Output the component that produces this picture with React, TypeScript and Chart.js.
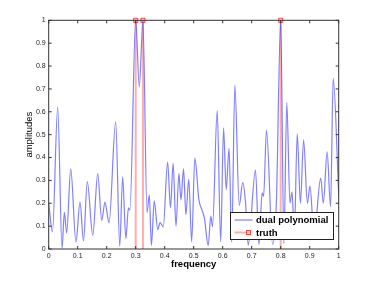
import React, { useEffect, useRef } from 'react';
import { Chart, registerables } from 'chart.js';

Chart.register(...registerables);

// ---- data ----
const freqs = [
  0.0, 0.013, 0.031, 0.046, 0.054, 0.062, 0.076, 0.094, 0.108, 0.12,
  0.133, 0.152, 0.169, 0.183, 0.194, 0.208, 0.231, 0.245, 0.255, 0.266,
  0.275, 0.28, 0.3, 0.3125, 0.325, 0.339, 0.347, 0.354, 0.364, 0.376,
  0.384, 0.395, 0.41, 0.42, 0.429, 0.439, 0.449, 0.456, 0.465, 0.473,
  0.483, 0.493, 0.504, 0.518, 0.528, 0.537, 0.55, 0.559, 0.565, 0.581,
  0.593, 0.603, 0.612, 0.622, 0.631, 0.642, 0.657, 0.669, 0.679, 0.688,
  0.713, 0.725, 0.736, 0.741, 0.751, 0.772, 0.785, 0.8, 0.811, 0.821,
  0.832, 0.839, 0.847, 0.857, 0.868, 0.879, 0.892, 0.901, 0.915, 0.938,
  0.947, 0.96, 0.972, 0.981, 1.0,
];
const amps = [
  0.2, 0.075, 0.62, 0.003, 0.16, 0.07, 0.35, 0.03, 0.205, 0.035,
  0.295, 0.06, 0.33, 0.125, 0.205, 0.115, 0.557, 0.012, 0.316, 0.045,
  0.18, 0.17, 1.0, 0.71, 1.0, 0.16, 0.236, 0.015, 0.21, 0.085,
  0.115, 0.097, 0.38, 0.18, 0.375, 0.1, 0.33, 0.215, 0.35, 0.15,
  0.305, 0.032, 0.397, 0.215, 0.172, 0.135, 0.015, 0.144, 0.098, 0.605,
  0.032, 0.53, 0.26, 0.44, 0.03, 0.717, 0.19, 0.29, 0.2, 0.017,
  0.345, 0.02, 0.245, 0.23, 0.52, 0.02, 0.2, 1.0, 0.025, 0.64,
  0.2, 0.25, 0.06, 0.503, 0.2, 0.477, 0.2, 0.275, 0.06, 0.31,
  0.2, 0.425, 0.185, 0.746, 0.236,
];
const truthFreqs = [0.3, 0.325, 0.8];
const truthAmps = [1, 1, 1];

const xTickValues = [0, 0.1, 0.2, 0.3, 0.4, 0.5, 0.6, 0.7, 0.8, 0.9, 1];
const xTickLabels = ['0', '0.1', '0.2', '0.3', '0.4', '0.5', '0.6', '0.7', '0.8', '0.9', '1'];
const yTickValues = [0, 0.1, 0.2, 0.3, 0.4, 0.5, 0.6, 0.7, 0.8, 0.9, 1];
const yTickLabels = ['0', '0.1', '0.2', '0.3', '0.4', '0.5', '0.6', '0.7', '0.8', '0.9', '1'];
const xTitle = 'frequency';
const yTitle = 'amplitudes';
const seriesLabels = ['dual polynomial', 'truth'];

const FONT = "'Liberation Sans', Arial, Helvetica, sans-serif";
const BLUE = 'rgba(0,0,255,0.5)';
const RED = 'rgba(255,0,0,0.32)';
const MARK_BORDER = 'rgba(255,0,0,0.7)';
const MARK_FILL = 'rgba(255,200,200,0.7)';

export default function App() {
  const ref = useRef<HTMLCanvasElement>(null);

  useEffect(() => {
    if (!ref.current) return;

    const truthData: any[] = [];
    truthFreqs.forEach((f, i) => {
      truthData.push({ x: f, y: 0 });
      truthData.push({ x: f, y: truthAmps[i] });
      truthData.push({ x: f, y: null });
    });

    const framePlugin = {
      id: 'matlabFrame',
      afterDatasetsDraw(chart: any) {
        const { ctx, chartArea: a, scales } = chart;
        const xs = scales.x;
        const ys = scales.y;
        ctx.save();
        ctx.strokeStyle = '#333';
        ctx.lineWidth = 1;
        ctx.strokeRect(a.left, a.top, a.right - a.left, a.bottom - a.top);
        const tl = 3;
        ctx.beginPath();
        xTickValues.forEach((v) => {
          const px = xs.getPixelForValue(v);
          ctx.moveTo(px, a.bottom);
          ctx.lineTo(px, a.bottom - tl);
          ctx.moveTo(px, a.top);
          ctx.lineTo(px, a.top + tl);
        });
        yTickValues.forEach((v) => {
          const py = ys.getPixelForValue(v);
          ctx.moveTo(a.left, py);
          ctx.lineTo(a.left + tl, py);
          ctx.moveTo(a.right, py);
          ctx.lineTo(a.right - tl, py);
        });
        ctx.stroke();

        // legend box
        const lx = a.right - 108.2;
        const ly = a.bottom - 36.5;
        const lw = 103;
        const lh = 27;
        ctx.fillStyle = '#fff';
        ctx.fillRect(lx, ly, lw, lh);
        ctx.strokeStyle = '#222';
        ctx.lineWidth = 1;
        ctx.strokeRect(lx, ly, lw, lh);

        const y1 = ly + 7.5;
        const y2 = ly + 20;
        ctx.strokeStyle = BLUE;
        ctx.lineWidth = 1.2;
        ctx.beginPath();
        ctx.moveTo(lx + 4, y1);
        ctx.lineTo(lx + 22, y1);
        ctx.stroke();

        ctx.strokeStyle = RED;
        ctx.lineWidth = 2;
        ctx.beginPath();
        ctx.moveTo(lx + 4, y2);
        ctx.lineTo(lx + 19, y2);
        ctx.stroke();
        ctx.fillStyle = MARK_FILL;
        ctx.strokeStyle = MARK_BORDER;
        ctx.lineWidth = 1;
        ctx.fillRect(lx + 16, y2 - 2, 4, 4);
        ctx.strokeRect(lx + 16, y2 - 2, 4, 4);

        ctx.fillStyle = '#000';
        ctx.font = `bold 9.5px ${FONT}`;
        ctx.textAlign = 'left';
        ctx.textBaseline = 'middle';
        ctx.fillText(seriesLabels[0], lx + 25.5, y1 + 0.5);
        ctx.fillText(seriesLabels[1], lx + 25.5, y2 + 0.5);
        ctx.restore();
      },
    };

    const chart = new Chart(ref.current, {
      type: 'line',
      data: {
        datasets: [
          {
            label: seriesLabels[0],
            data: freqs.map((f, i) => ({ x: f, y: amps[i] })),
            borderColor: BLUE,
            borderWidth: 1.2,
            pointRadius: 0,
            fill: false,
            cubicInterpolationMode: 'monotone',
          } as any,
          {
            label: seriesLabels[1],
            data: truthData,
            borderColor: RED,
            borderWidth: 2,
            spanGaps: false,
            tension: 0,
            fill: false,
            clip: false,
            pointStyle: 'rect',
            pointRadius: (c: any) => (c.raw && c.raw.y !== null && c.raw.y > 0 ? 2.9 : 0),
            pointBorderColor: MARK_BORDER,
            pointBackgroundColor: MARK_FILL,
            pointBorderWidth: 1,
          } as any,
        ],
      },
      options: {
        responsive: false,
        animation: false,
        events: [],
        layout: { padding: { left: 0, top: 20.3, right: 35.3, bottom: 0 } },
        plugins: {
          legend: { display: false },
          tooltip: { enabled: false },
        },
        scales: {
          x: {
            type: 'linear',
            min: 0,
            max: 1,
            afterBuildTicks: (s: any) => {
              s.ticks = xTickValues.map((v) => ({ value: v }));
            },
            afterFit: (s: any) => {
              s.height = 32;
            },
            grid: { display: false, drawTicks: false },
            border: { display: false },
            ticks: {
              autoSkip: false,
              maxRotation: 0,
              padding: 3,
              color: '#222',
              font: { family: FONT, size: 7 },
              callback: (_v: any, i: number) => xTickLabels[i],
            },
            title: {
              display: true,
              text: xTitle,
              color: '#000',
              font: { family: FONT, size: 9.5, weight: 'bold' },
              padding: { top: 0, bottom: 11.3 },
            },
          },
          y: {
            type: 'linear',
            min: 0,
            max: 1,
            afterBuildTicks: (s: any) => {
              s.ticks = yTickValues.map((v) => ({ value: v }));
            },
            afterFit: (s: any) => {
              s.width = 48.7;
            },
            grid: { display: false, drawTicks: false },
            border: { display: false },
            ticks: {
              autoSkip: false,
              padding: 3,
              color: '#222',
              font: { family: FONT, size: 7 },
              callback: (_v: any, i: number) => yTickLabels[i],
            },
            title: {
              display: true,
              text: yTitle,
              color: '#000',
              font: { family: FONT, size: 9.5 },
              padding: { top: 23.3, bottom: 0 },
            },
          },
        },
      } as any,
      plugins: [framePlugin],
    });

    return () => chart.destroy();
  }, []);

  return (
    <div style={{ position: 'absolute', left: 0, top: 0, width: 374, height: 281, background: '#fff' }}>
      <canvas ref={ref} width={374} height={281} />
    </div>
  );
}
